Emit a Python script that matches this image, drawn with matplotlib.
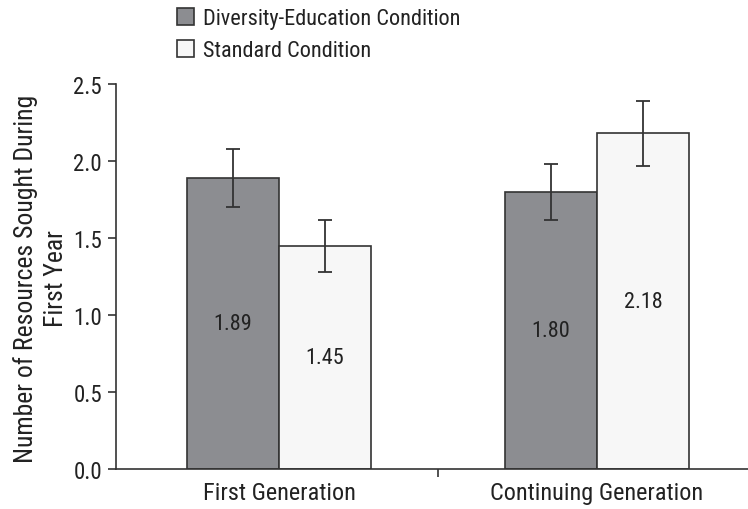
import numpy as np
import matplotlib.pyplot as plt
from matplotlib.patches import Patch

plt.rcParams['font.family'] = ['Roboto Condensed', 'DejaVu Sans']

groups = ['First Generation', 'Continuing Generation']
conditions = ['Diversity-Education Condition', 'Standard Condition']
diversity = [1.89, 1.80]
standard = [1.45, 2.18]
diversity_err = [0.19, 0.18]
standard_err = [0.17, 0.21]

colors = ['#8c8d91', '#f7f7f7']
edge = '#333333'
txt = '#222222'

fig = plt.figure(figsize=(7.48, 5.10), dpi=100)
ax = fig.add_axes([116 / 748, 1 - 470 / 510, 1 - 116 / 748, (470 - 85) / 510])

x = np.arange(len(groups))
w = 0.29
for vals, errs, col, off in [(diversity, diversity_err, colors[0], -w / 2),
                             (standard, standard_err, colors[1], w / 2)]:
    ax.bar(x + off, vals, w, color=col, edgecolor=edge, linewidth=1.2, zorder=2)
    ax.errorbar(x + off, vals, yerr=errs, fmt='none', ecolor=edge,
                elinewidth=1.3, capsize=5, capthick=1.3, zorder=3)
    for xi, v in zip(x + off, vals):
        ax.text(xi, v / 2, f'{v:.2f}', ha='center', va='center',
                fontsize=16, color=txt, zorder=4)

ax.set_xlim(-0.513, 1.475)
ax.set_ylim(0, 2.5)
ax.set_yticks(np.arange(0, 2.51, 0.5))
ax.set_yticklabels([f'{t:.1f}' for t in np.arange(0, 2.51, 0.5)])
ax.set_xticks(x)
ax.set_xticklabels(groups)
ax.set_xticks([0.5], minor=True)
ax.tick_params(axis='x', which='major', length=0, labelsize=17.5, pad=9, labelcolor=txt)
ax.tick_params(axis='x', which='minor', length=6, width=1.2, color=edge)
ax.tick_params(axis='y', length=6, width=1.2, color=edge, labelsize=16.5, pad=4, labelcolor=txt)

for s in ['top', 'right']:
    ax.spines[s].set_visible(False)
for s in ['left', 'bottom']:
    ax.spines[s].set_color(edge)
    ax.spines[s].set_linewidth(1.2)

ax.set_ylabel('Number of Resources Sought During\nFirst Year', fontsize=18.5,
              linespacing=1.3, va='center', color=txt)
ax.yaxis.set_label_coords(-0.119, 0.497)

handles = [Patch(facecolor=c, edgecolor=edge, linewidth=1.2) for c in colors]
fig.legend(handles, conditions, loc='upper left', bbox_to_anchor=(177 / 748, 1 - 9 / 510),
           frameon=False, fontsize=16, handlelength=0.78, handleheight=0.78,
           handletextpad=0.4, labelspacing=0.5, borderaxespad=0, borderpad=0,
           labelcolor=txt)

fig.savefig('out.png', dpi=100)
